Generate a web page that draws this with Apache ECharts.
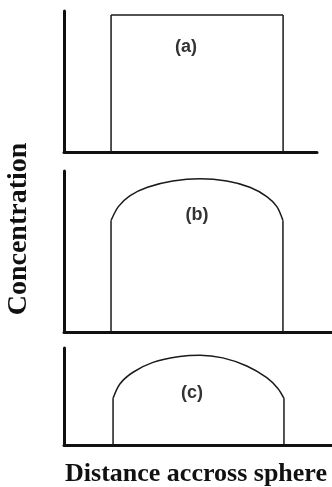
<!DOCTYPE html>
<html>
<head>
<meta charset="utf-8">
<script src="https://cdn.jsdelivr.net/npm/echarts@6/dist/echarts.min.js"></script>
<style>
html,body{margin:0;padding:0;background:#fff;}
#chart{width:332px;height:487px;}
</style>
</head>
<body>
<div id="chart"></div>
<script>
// ---- data ----
const panelLabels = ['(a)', '(b)', '(c)'];
const xMax = [100, 106, 106];
const yMax = [1.03, 1.04, 1.08];
const xTitle = 'Distance accross sphere';
const yTitle = 'Concentration';

// (a) uniform concentration: flat top
const profileA = [[18.6, 1.0], [86.6, 1.0]];
// (b) dome-shaped profile (top of curve)
const profileB = [
  [18.6, 0.72], [21.5, 0.81], [26.0, 0.88], [33.0, 0.935], [43.0, 0.975],
  [53.8, 0.99], [64.4, 0.975], [73.5, 0.935], [80.2, 0.875], [84.2, 0.81], [86.6, 0.72]
];
// (c) more rounded profile
const profileC = [
  [19.4, 0.52], [22.1, 0.68], [27.3, 0.81], [35.2, 0.92], [45.8, 0.985],
  [53.8, 1.00], [62.8, 0.97], [72.3, 0.88], [80.2, 0.75], [84.6, 0.63], [87.0, 0.52]
];
const profiles = [profileA, profileB, profileC];

// ---- layout ----
const grids = [
  { left: 64, top: 11, width: 253, height: 141 },
  { left: 64, top: 171, width: 268, height: 161 },
  { left: 64, top: 348, width: 268, height: 97 }
];
const labelPos = [[186, 47], [197, 215], [192, 393]];

const axisLine = { show: true, onZero: false, lineStyle: { color: '#111', width: 3 } };
const curveStyle = { color: '#1a1a1a', width: 1.5 };

const xAxes = [], yAxes = [], series = [];
grids.forEach((g, i) => {
  xAxes.push({ type: 'value', gridIndex: i, min: 0, max: xMax[i], axisLine: axisLine,
    axisTick: { show: false }, axisLabel: { show: false }, splitLine: { show: false } });
  yAxes.push({ type: 'value', gridIndex: i, min: 0, max: yMax[i], axisLine: axisLine,
    axisTick: { show: false }, axisLabel: { show: false }, splitLine: { show: false } });
  const p = profiles[i];
  const first = p[0], last = p[p.length - 1];
  const common = { type: 'line', xAxisIndex: i, yAxisIndex: i, showSymbol: false, symbol: 'none',
    lineStyle: curveStyle, silent: true, animation: false };
  series.push(Object.assign({}, common, { data: [[first[0], 0], first] }));
  series.push(Object.assign({}, common, { data: p, smooth: i === 0 ? false : 0.3 }));
  series.push(Object.assign({}, common, { data: [last, [last[0], 0]] }));
});

const graphic = panelLabels.map((t, i) => ({
  type: 'text', x: labelPos[i][0], y: labelPos[i][1],
  style: { text: t, font: 'bold 18px "Liberation Sans", Arial, sans-serif', fill: '#333',
    align: 'center', verticalAlign: 'middle' }
}));
graphic.push({
  type: 'text', x: 196, y: 474,
  style: { text: xTitle, font: 'bold 26px "Liberation Serif", "Times New Roman", serif', fill: '#111',
    align: 'center', verticalAlign: 'middle' }
});
graphic.push({
  type: 'text', x: 19, y: 229, rotation: Math.PI / 2,
  style: { text: yTitle, font: 'bold 28px "Liberation Serif", "Times New Roman", serif', fill: '#111',
    align: 'center', verticalAlign: 'middle' }
});

const chart = echarts.init(document.getElementById('chart'), null, { renderer: 'canvas' });
chart.setOption({
  animation: false,
  backgroundColor: '#fff',
  grid: grids,
  xAxis: xAxes,
  yAxis: yAxes,
  series: series,
  graphic: graphic
});
</script>
</body>
</html>
